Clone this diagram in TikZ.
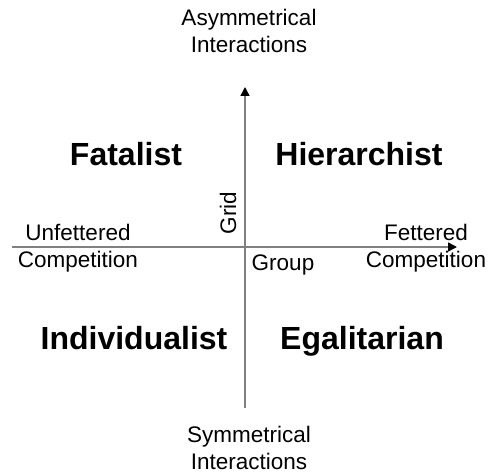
\documentclass[tikz,border=0pt]{standalone}
\usepackage{fontspec}
\setmainfont{Liberation Sans}
\definecolor{AxisGray}{RGB}{128,128,128}
\usetikzlibrary{arrows.meta}

\begin{document}
\begin{tikzpicture}[
    x=1pt, y=-1pt,
    axis/.style={AxisGray, line width=1.6pt, -{Triangle[black, length=9pt, width=9pt]}},
    plain/.style={font=\fontsize{22.5}{27}\selectfont, align=center, inner sep=0pt},
    quad/.style={font=\fontsize{32}{36}\selectfont\bfseries, inner sep=0pt, anchor=base}
]
    \useasboundingbox (0,0) rectangle (493,473);
    \coordinate (bottom) at (245, 408);
    \coordinate (top)    at (245, 87);
    \coordinate (left)   at (12, 247);
    \coordinate (right)  at (457, 247);
    \draw[axis] (bottom) -- (top);
    \draw[axis] (left) -- (right);
    \node[plain] (asym)  at (249, 31)  {Asymmetrical\\Interactions};
    \node[plain] (sym)   at (249, 448) {Symmetrical\\Interactions};
    \node[plain] (unfet) at (78, 248)  {Unfettered\\Competition};
    \node[plain] (fet)   at (426, 248) {Fettered\\Competition};
    \node[plain, rotate=90] (grid) at (228, 213) {Grid};
    \node[plain] (group) at (283, 265) {Group};
    \node[quad] (fatal) at (126, 166) {Fatalist};
    \node[quad] (hier)  at (359, 166) {Hierarchist};
    \node[quad] (indiv) at (134, 349) {Individualist};
    \node[quad] (egal)  at (362, 349) {Egalitarian};
\end{tikzpicture}
\end{document}
